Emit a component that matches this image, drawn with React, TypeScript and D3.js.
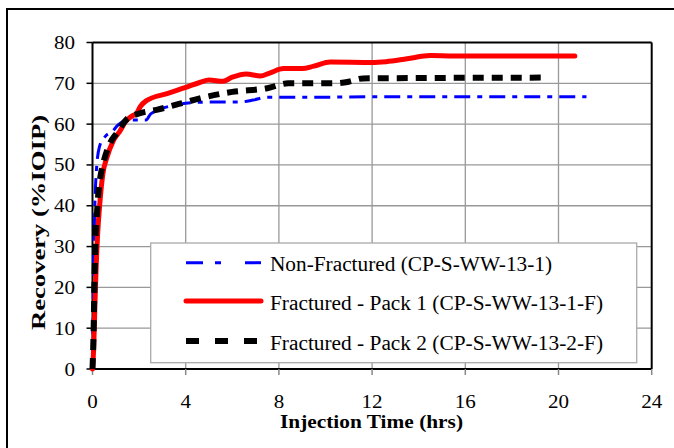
import React from "react";
import * as d3 from "d3";

const xTicks = [0, 4, 8, 12, 16, 20, 24];
const yTicks = [0, 10, 20, 30, 40, 50, 60, 70, 80];

const nonFracT = [0, 0.05, 0.1, 0.15, 0.2, 0.3, 0.55, 0.85, 1.1, 1.5, 2.3, 2.5, 3.4, 4.0, 5.0, 6.3, 6.9, 7.5, 10, 12, 21.2];
const nonFracV = [0, 25, 40, 47, 51, 54.5, 57, 58.2, 59.8, 61, 61, 62.5, 64.5, 65.1, 65.4, 65.4, 65.9, 66.6, 66.6, 66.7, 66.7];

const pack1T = [0, 0.05, 0.1, 0.15, 0.22, 0.32, 0.45, 0.6, 0.9, 1.2, 1.4, 1.7, 1.9, 2.05, 2.3, 3.2, 4.0, 4.6, 5.0, 5.6, 6.0, 6.6, 7.2, 7.6, 8.2, 9.0, 9.5, 10.2, 12.0, 12.6, 13.5, 14.5, 15.5, 20.7];
const pack1V = [0, 5, 15, 24, 33, 41, 48, 51.5, 56, 58.5, 60.5, 62, 62.7, 64.3, 65.7, 67.5, 69, 70.2, 70.8, 70.5, 71.5, 72.3, 71.8, 72.5, 73.6, 73.6, 74.2, 75.2, 75.1, 75.3, 76, 76.8, 76.7, 76.7];

const pack2T = [0, 0.05, 0.08, 0.12, 0.18, 0.25, 0.35, 0.46, 0.75, 1.04, 1.47, 2.0, 2.75, 3.75, 4.9, 6.0, 7.5, 8.4, 10.3, 11.0, 11.6, 19.4];
const pack2V = [0, 10, 20, 30, 37, 43, 47.5, 50.4, 55.3, 57.8, 61.2, 62.6, 63.5, 65, 66.7, 67.9, 68.8, 70, 70, 70.4, 71.2, 71.4];

const seriesNames = [
  "Non-Fractured (CP-S-WW-13-1)",
  "Fractured - Pack 1 (CP-S-WW-13-1-F)",
  "Fractured - Pack 2 (CP-S-WW-13-2-F)",
];

const FONT = '"Liberation Serif", "Times New Roman", Tinos, "DejaVu Serif", serif';
const tStyle = { fontFamily: FONT };

export default function App() {
  const left = 92.5, right = 651.7, top = 42.5, bottom = 369;
  const x = d3.scaleLinear().domain([0, 24]).range([left, right]);
  const y = d3.scaleLinear().domain([0, 80]).range([bottom, top]);
  const line = d3
    .line<[number, number]>()
    .x((d) => x(d[0]))
    .y((d) => y(d[1]))
    .curve(d3.curveMonotoneX);

  const zip = (t: number[], v: number[]) => t.map((tt, i) => [tt, v[i]] as [number, number]);

  const series = [
    { name: seriesNames[0], data: zip(nonFracT, nonFracV), color: "#0000ff", width: 3, dash: "16,7,5,7", legendDash: "17,12,6,24", len: 282 },
    { name: seriesNames[1], data: zip(pack1T, pack1V), color: "#ff0000", width: 5, dash: undefined, legendDash: undefined, len: 333 },
    { name: seriesNames[2], data: zip(pack2T, pack2V), color: "#000000", width: 6, dash: "11,8", legendDash: "13,16", len: 333 },
  ];

  const legendX = 150.7, legendY = 243, legendW = 486, legendH = 119.7;
  const rowY = [262.7, 301, 341];
  const tickLen = (t: number) => String(t).length * 10.5;

  return (
    <svg
      width={674}
      height={448}
      style={{ position: "absolute", left: 0, top: 0, background: "#fff", fontFamily: FONT }}
    >
      <rect x={0} y={0} width={674} height={448} fill="#fff" />
      <rect x={7} y={9} width={700} height={460} fill="none" stroke="#000" strokeWidth={2} />

      {yTicks.filter((t) => t > 0 && t < 80).map((t) => (
        <line key={"gy" + t} x1={left} x2={right} y1={y(t)} y2={y(t)} stroke="#999" strokeWidth={1.3} />
      ))}
      {xTicks.filter((t) => t > 0 && t < 24).map((t) => (
        <line key={"gx" + t} x1={x(t)} x2={x(t)} y1={top} y2={bottom} stroke="#999" strokeWidth={1.3} />
      ))}

      <line x1={left} x2={right} y1={top} y2={top} stroke="#000" strokeWidth={2} />
      <line x1={right} x2={right} y1={top} y2={bottom} stroke="#000" strokeWidth={2} />
      <line x1={left} x2={left} y1={top} y2={bottom} stroke="#000" strokeWidth={2} />
      <line x1={left} x2={right} y1={bottom} y2={bottom} stroke="#000" strokeWidth={2} />

      {yTicks.map((t) => (
        <g key={"ty" + t}>
          <line x1={left - 6} x2={left} y1={y(t)} y2={y(t)} stroke="#000" strokeWidth={1.5} />
          <text
            x={75}
            y={y(t) + 6.5}
            textAnchor="end"
            fontSize={19}
            fill="#000"
            style={tStyle}
            textLength={tickLen(t)}
            lengthAdjust="spacingAndGlyphs"
          >
            {t}
          </text>
        </g>
      ))}
      {xTicks.map((t) => (
        <g key={"tx" + t}>
          <line x1={x(t)} x2={x(t)} y1={bottom} y2={bottom + 6} stroke="#888" strokeWidth={1.5} />
          <text
            x={x(t)}
            y={408}
            textAnchor="middle"
            fontSize={19}
            fill="#000"
            style={tStyle}
            textLength={tickLen(t)}
            lengthAdjust="spacingAndGlyphs"
          >
            {t}
          </text>
        </g>
      ))}

      <text
        x={371.5}
        y={428}
        textAnchor="middle"
        fontSize={19}
        fontWeight="bold"
        fill="#000"
        style={tStyle}
        textLength={183}
        lengthAdjust="spacingAndGlyphs"
      >
        Injection Time (hrs)
      </text>
      <text
        transform={`translate(45, 222.5) rotate(-90)`}
        textAnchor="middle"
        fontSize={18}
        fontWeight="bold"
        fill="#000"
        style={tStyle}
        textLength={215}
        lengthAdjust="spacingAndGlyphs"
      >
        Recovery (%IOIP)
      </text>

      {series.map((s) => (
        <path
          key={s.name}
          d={line(s.data) || ""}
          fill="none"
          stroke={s.color}
          strokeWidth={s.width}
          strokeDasharray={s.dash}
          strokeLinejoin="round"
          strokeLinecap={s.dash ? "butt" : "round"}
        />
      ))}

      <rect x={legendX} y={legendY} width={legendW} height={legendH} fill="#fff" stroke="#aaa" strokeWidth={1.3} />
      {series.map((s, i) => (
        <g key={"lg" + i}>
          <line
            x1={186}
            x2={261}
            y1={rowY[i]}
            y2={rowY[i]}
            stroke={s.color}
            strokeWidth={s.width}
            strokeDasharray={s.legendDash}
            strokeLinecap={s.legendDash ? "butt" : "round"}
          />
          <text
            x={270}
            y={rowY[i] + 8.5}
            fontSize={20}
            fill="#000"
            style={tStyle}
            textLength={s.len}
            lengthAdjust="spacingAndGlyphs"
          >
            {s.name}
          </text>
        </g>
      ))}
    </svg>
  );
}
